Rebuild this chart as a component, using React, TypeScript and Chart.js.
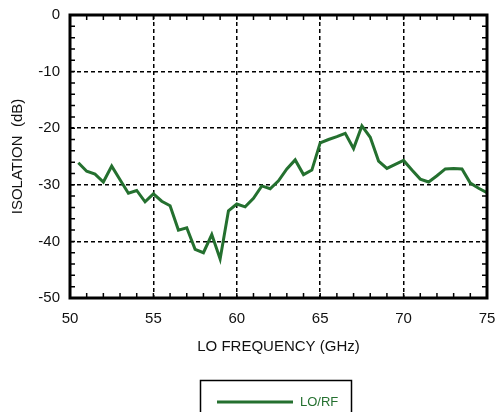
import React, { useEffect, useRef } from "react";
import { Chart, registerables } from "chart.js";
Chart.register(...registerables);

const frequencies = [
  50.5, 51, 51.5, 52, 52.5, 53, 53.5, 54, 54.5, 55, 55.5, 56, 56.5, 57, 57.5, 58, 58.5, 59, 59.5, 60,
  60.5, 61, 61.5, 62, 62.5, 63, 63.5, 64, 64.5, 65, 65.5, 66, 66.5, 67, 67.5, 68, 68.5, 69, 69.5, 70,
  70.5, 71, 71.5, 72, 72.5, 73, 73.5, 74, 74.5, 75,
];
const isolation = [
  -26.1, -27.6, -28.1, -29.5, -26.7, -29.1, -31.5, -31.0, -33.0, -31.6, -32.9, -33.7, -38.0, -37.6, -41.4, -42.0, -38.8, -43.1, -34.6, -33.4,
  -33.9, -32.4, -30.2, -30.7, -29.3, -27.2, -25.6, -28.2, -27.4, -22.6, -22.0, -21.5, -20.9, -23.6, -19.6, -21.6, -25.8, -27.1, -26.4, -25.7,
  -27.4, -29.0, -29.5, -28.4, -27.2, -27.1, -27.2, -29.7, -30.6, -31.4,
];
const xRange = [50, 75];
const yRange = [-50, 0];
const xMajorStep = 5;
const yMajorStep = 10;
const xMinorStep = 1;
const yMinorStep = 2;
const seriesLabel = "LO/RF";
const xTitle = "LO FREQUENCY (GHz)";
const yTitle = "ISOLATION  (dB)";

const GREEN = "#24702f";
const FONT = "'Liberation Sans', Arial, Helvetica, sans-serif";

const framePlugin = {
  id: "frame",
  afterDatasetsDraw(chart: any) {
    const { ctx, chartArea: a, scales } = chart;
    const xs = scales.x;
    const ys = scales.y;
    const len = 5;
    ctx.save();
    ctx.strokeStyle = "#000";
    ctx.lineWidth = 1.5;
    ctx.beginPath();
    for (let v = xRange[0]; v <= xRange[1] + 1e-9; v += xMinorStep) {
      const px = xs.getPixelForValue(v);
      ctx.moveTo(px, a.bottom);
      ctx.lineTo(px, a.bottom - len);
      ctx.moveTo(px, a.top);
      ctx.lineTo(px, a.top + len);
    }
    for (let v = yRange[0]; v <= yRange[1] + 1e-9; v += yMinorStep) {
      const py = ys.getPixelForValue(v);
      ctx.moveTo(a.left, py);
      ctx.lineTo(a.left + len, py);
      ctx.moveTo(a.right, py);
      ctx.lineTo(a.right - len, py);
    }
    ctx.stroke();
    ctx.lineWidth = 3;
    ctx.strokeRect(a.left, a.top, a.right - a.left, a.bottom - a.top);
    ctx.restore();
  },
};

const legendPlugin = {
  id: "boxLegend",
  afterDraw(chart: any) {
    const { ctx } = chart;
    const ds = chart.data.datasets[0];
    ctx.save();
    ctx.strokeStyle = "#000";
    ctx.lineWidth = 1.5;
    ctx.strokeRect(200.5, 380.5, 151, 40);
    ctx.strokeStyle = ds.borderColor;
    ctx.lineWidth = 3;
    ctx.beginPath();
    ctx.moveTo(217, 402);
    ctx.lineTo(293, 402);
    ctx.stroke();
    ctx.fillStyle = ds.borderColor;
    ctx.font = "13px " + FONT;
    ctx.textBaseline = "middle";
    ctx.textAlign = "left";
    ctx.fillText(ds.label, 300, 402);
    ctx.restore();
  },
};

export default function App() {
  const ref = useRef<HTMLCanvasElement | null>(null);
  useEffect(() => {
    if (!ref.current) return;
    const chart = new Chart(ref.current, {
      type: "line",
      data: {
        datasets: [
          {
            label: seriesLabel,
            data: frequencies.map((f, i) => ({ x: f, y: isolation[i] })),
            borderColor: GREEN,
            backgroundColor: GREEN,
            borderWidth: 3,
            pointRadius: 0,
            tension: 0,
            fill: false,
          },
        ],
      },
      options: {
        animation: false,
        responsive: false,
        layout: { padding: { left: 0, top: 15, right: 15, bottom: 56 } },
        plugins: { legend: { display: false }, tooltip: { enabled: false } },
        scales: {
          x: {
            type: "linear",
            min: xRange[0],
            max: xRange[1],
            afterFit: (s: any) => {
              s.height = 58;
              s.paddingLeft = 0;
              s.paddingRight = 0;
            },
            ticks: {
              stepSize: xMajorStep,
              padding: 12,
              color: "#111",
              font: { family: FONT, size: 15 },
            },
            grid: { color: "#000", lineWidth: 1.5, drawTicks: false },
            border: { display: false, dash: [4, 3] },
            title: {
              display: true,
              text: xTitle,
              color: "#111",
              font: { family: FONT, size: 15 },
              padding: { top: 0, bottom: 0 },
            },
          },
          y: {
            type: "linear",
            min: yRange[0],
            max: yRange[1],
            afterFit: (s: any) => {
              s.width = 70;
              s.paddingTop = 0;
              s.paddingBottom = 0;
            },
            ticks: {
              stepSize: yMajorStep,
              padding: 10,
              color: "#111",
              font: { family: FONT, size: 15 },
            },
            grid: { color: "#000", lineWidth: 1.5, drawTicks: false },
            border: { display: false, dash: [4, 3] },
            title: {
              display: true,
              text: yTitle,
              color: "#111",
              font: { family: FONT, size: 15 },
              padding: { top: 9, bottom: 0 },
            },
          },
        },
      },
      plugins: [framePlugin, legendPlugin],
    });
    return () => chart.destroy();
  }, []);
  return (
    <div style={{ position: "absolute", left: 0, top: 0, width: 502, height: 412 }}>
      <canvas ref={ref} width={502} height={412} />
    </div>
  );
}
